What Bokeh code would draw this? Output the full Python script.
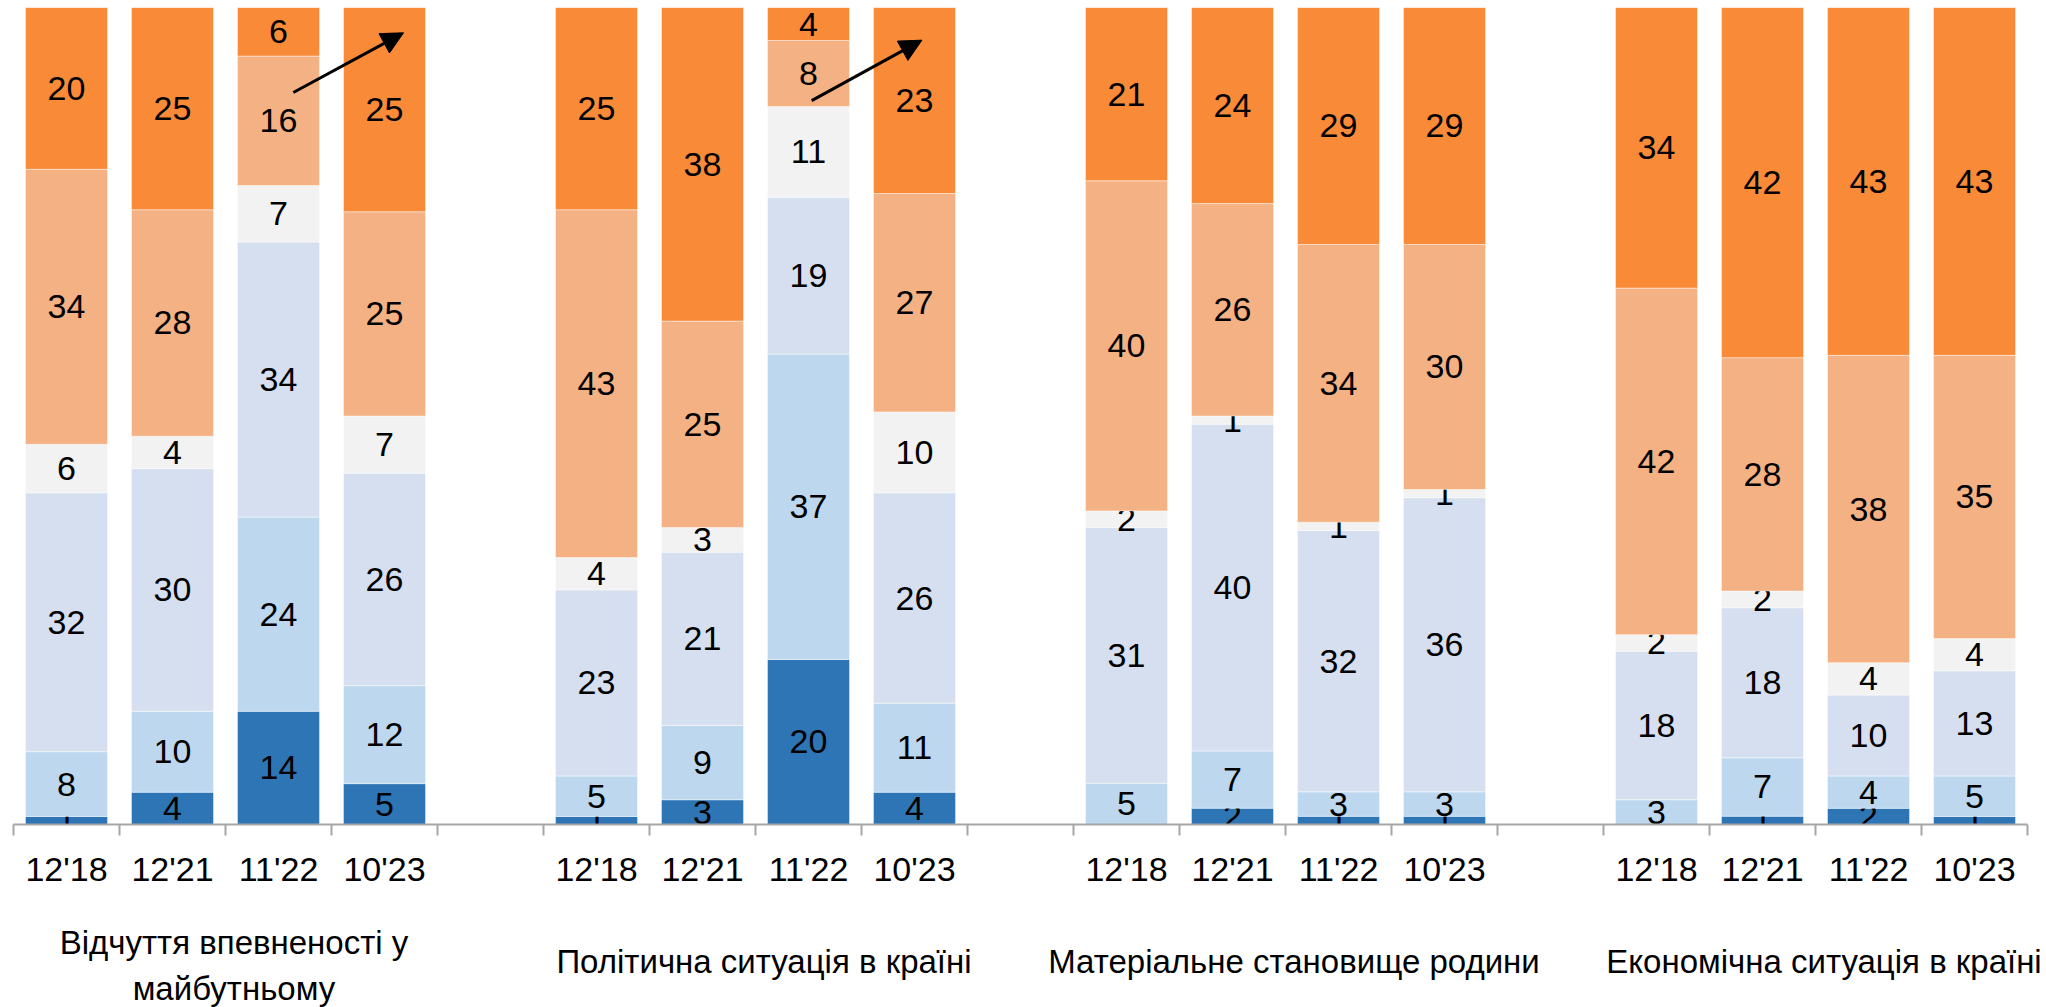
import numpy as np
from bokeh.plotting import figure
from bokeh.layouts import column
from bokeh.models import Range1d, FixedTicker, LinearAxis, ColumnDataSource, Arrow, NormalHead
from bokeh.core.properties import value
from bokeh.embed import file_html
from bokeh.resources import INLINE

periods = ["12'18", "12'21", "11'22", "10'23"]
groups = ["Відчуття впевненості у\nмайбутньому", "Політична ситуація в країні",
          "Матеріальне становище родини", "Економічна ситуація в країні"]

# segments from bottom to top, 4 periods per group, groups in order
seg_dark_blue = [1, 4, 14, 5,   1, 3, 20, 4,    0, 2, 1, 1,     0, 1, 2, 1]
seg_light_blue = [8, 10, 24, 12, 5, 9, 37, 11,  5, 7, 3, 3,     3, 7, 4, 5]
seg_lavender = [32, 30, 34, 26, 23, 21, 19, 26, 31, 40, 32, 36, 18, 18, 10, 13]
seg_gray = [6, 4, 7, 7,         4, 3, 11, 10,   2, 1, 1, 1,     2, 2, 4, 4]
seg_light_orange = [34, 28, 16, 25, 43, 25, 8, 27, 40, 26, 34, 30, 42, 28, 38, 35]
seg_orange = [20, 25, 6, 25,    25, 38, 4, 23,  21, 24, 29, 29, 34, 42, 43, 43]

series = [seg_dark_blue, seg_light_blue, seg_lavender, seg_gray, seg_light_orange, seg_orange]
colors = ["#2E75B6", "#BDD7EE", "#D6DFF0", "#F2F2F2", "#F4B183", "#F98A38"]

# trend arrows (data coordinates: slot units, percent)
arrows = [(2.64, 89.6, 3.68, 96.9), (7.53, 88.6, 8.57, 96.0)]

FONT_NAME = "Liberation Sans"
FONT = value(FONT_NAME)
FS = "34px"
FS_GROUP = "33px"

n_groups = len(groups)
n_per = len(periods)
n_slots = n_groups * (n_per + 1) - 1
slots = [g * (n_per + 1) + j for g in range(n_groups) for j in range(n_per)]
centers = [s + 0.5 for s in slots]

vals = np.array(series, dtype=float)
totals = vals.sum(axis=0)
pct = vals / totals * 100.0
tops = np.cumsum(pct, axis=0)
bottoms = tops - pct

W, LEFT, RIGHT = 2046, 13, 19
slot_px = (W - LEFT - RIGHT) / n_slots

# frames span the full width; the x range is padded so that slots keep their place
xr = Range1d(-LEFT / slot_px, (W - LEFT) / slot_px)
p = figure(width=W, height=908, x_range=xr, y_range=Range1d(0, 100),
           output_backend="svg", toolbar_location=None,
           min_border_left=0, min_border_right=0, min_border_top=7, min_border_bottom=84,
           x_axis_location=None, y_axis_location=None)
p.outline_line_color = None
p.grid.visible = False

for k, (ser, col) in enumerate(zip(series, colors)):
    xs, bs, ts, ms, txt = [], [], [], [], []
    for i, v in enumerate(ser):
        if v <= 0:
            continue
        xs.append(centers[i]); bs.append(bottoms[k, i]); ts.append(tops[k, i])
        ms.append((bottoms[k, i] + tops[k, i]) / 2); txt.append(str(v))
    src = ColumnDataSource(dict(x=xs, bottom=bs, top=ts, mid=ms, label=txt))
    p.vbar(x="x", width=0.774, bottom="bottom", top="top", source=src,
           fill_color=col, line_color="white", line_alpha=0.45, line_width=1)
    p.text(x="x", y="mid", text="label", source=src, text_align="center", text_baseline="middle",
           text_font=FONT, text_font_size=FS, text_color="black")

ax = LinearAxis(ticker=FixedTicker(ticks=centers, minor_ticks=list(range(n_slots + 1))),
                bounds=(0, n_slots))
ax.major_label_overrides = {c: periods[i % n_per] for i, c in enumerate(centers)}
ax.axis_line_color = "#A6A6A6"
ax.axis_line_width = 2
ax.major_tick_line_color = None
ax.major_tick_out = 0
ax.major_tick_in = 0
ax.minor_tick_line_color = "#A6A6A6"
ax.minor_tick_line_width = 2
ax.minor_tick_out = 11
ax.minor_tick_in = 0
ax.major_label_standoff = 14
ax.major_label_text_font = FONT_NAME
ax.major_label_text_font_size = FS
ax.major_label_text_color = "black"
p.add_layout(ax, "below")

for (x0, y0, x1, y1) in arrows:
    p.add_layout(Arrow(end=NormalHead(size=22, fill_color="black", line_color="black"),
                       x_start=x0, y_start=y0, x_end=x1, y_end=y1,
                       line_color="black", line_width=3))

# group captions below the axis (y in px from the top of this strip, line centre)
H2 = 99
q = figure(width=W, height=H2, x_range=xr, y_range=Range1d(H2, 0),
           output_backend="svg", toolbar_location=None,
           min_border_left=0, min_border_right=0, min_border_top=0, min_border_bottom=0,
           x_axis_location=None, y_axis_location=None)
q.outline_line_color = None
q.grid.visible = False
gx, gy, gt = [], [], []
for g, name in enumerate(groups):
    cx = g * (n_per + 1) + n_per / 2 + 0.08
    lines = name.split("\n")
    n = len(lines)
    for li, line in enumerate(lines):
        gx.append(cx); gy.append(53 + (n - 1) * 4 + (li - (n - 1) / 2) * 46); gt.append(line)
q.text(x=gx, y=gy, text=gt, text_align="center", text_baseline="middle",
       text_font=FONT, text_font_size=FS_GROUP, text_color="black")

layout = column(p, q, spacing=0)
open("out.html", "w").write(file_html(layout, INLINE))
